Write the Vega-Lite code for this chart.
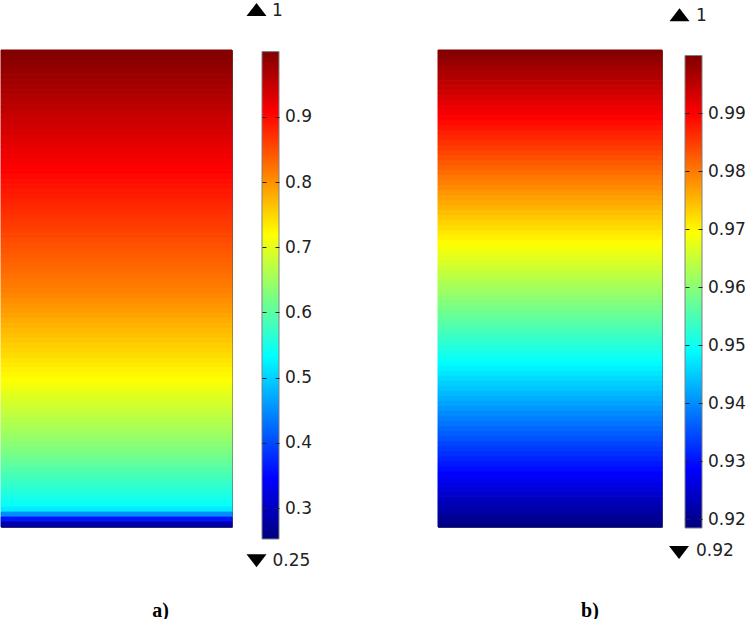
{
  "$schema": "https://vega.github.io/schema/vega-lite/v6.json",
  "background": "white",
  "padding": {"left": 0, "top": 1, "right": 0, "bottom": 6},
  "config": {"view": {"stroke": null}, "font": "DejaVu Sans"},
  "datasets": {
    "heatA": [
      {"row":0,"v":0.9981},{"row":1,"v":0.9942},{"row":2,"v":0.9903},{"row":3,"v":0.9864},{"row":4,"v":0.9826},{"row":5,"v":0.9787},{"row":6,"v":0.9748},{"row":7,"v":0.9709},{"row":8,"v":0.9671},{"row":9,"v":0.9632},
      {"row":10,"v":0.9593},{"row":11,"v":0.9554},{"row":12,"v":0.9516},{"row":13,"v":0.9477},{"row":14,"v":0.9438},{"row":15,"v":0.9399},{"row":16,"v":0.9361},{"row":17,"v":0.9322},{"row":18,"v":0.9283},{"row":19,"v":0.9244},
      {"row":20,"v":0.9206},{"row":21,"v":0.9167},{"row":22,"v":0.9128},{"row":23,"v":0.9089},{"row":24,"v":0.9051},{"row":25,"v":0.9012},{"row":26,"v":0.8973},{"row":27,"v":0.8934},{"row":28,"v":0.8896},{"row":29,"v":0.8857},
      {"row":30,"v":0.8818},{"row":31,"v":0.8779},{"row":32,"v":0.8741},{"row":33,"v":0.8702},{"row":34,"v":0.8663},{"row":35,"v":0.8624},{"row":36,"v":0.8586},{"row":37,"v":0.8547},{"row":38,"v":0.8508},{"row":39,"v":0.8469},
      {"row":40,"v":0.8431},{"row":41,"v":0.8392},{"row":42,"v":0.8353},{"row":43,"v":0.8314},{"row":44,"v":0.8276},{"row":45,"v":0.8237},{"row":46,"v":0.8198},{"row":47,"v":0.8159},{"row":48,"v":0.8121},{"row":49,"v":0.8073},
      {"row":50,"v":0.8021},{"row":51,"v":0.7969},{"row":52,"v":0.7917},{"row":53,"v":0.7865},{"row":54,"v":0.7813},{"row":55,"v":0.7761},{"row":56,"v":0.7709},{"row":57,"v":0.7657},{"row":58,"v":0.7605},{"row":59,"v":0.7553},
      {"row":60,"v":0.7501},{"row":61,"v":0.7449},{"row":62,"v":0.7397},{"row":63,"v":0.7345},{"row":64,"v":0.7293},{"row":65,"v":0.7241},{"row":66,"v":0.7187},{"row":67,"v":0.7122},{"row":68,"v":0.7056},{"row":69,"v":0.6991},
      {"row":70,"v":0.6925},{"row":71,"v":0.6860},{"row":72,"v":0.6794},{"row":73,"v":0.6729},{"row":74,"v":0.6663},{"row":75,"v":0.6598},{"row":76,"v":0.6532},{"row":77,"v":0.6467},{"row":78,"v":0.6401},{"row":79,"v":0.6336},
      {"row":80,"v":0.6270},{"row":81,"v":0.6194},{"row":82,"v":0.6112},{"row":83,"v":0.6031},{"row":84,"v":0.5949},{"row":85,"v":0.5868},{"row":86,"v":0.5786},{"row":87,"v":0.5705},{"row":88,"v":0.5623},{"row":89,"v":0.5542},
      {"row":90,"v":0.5460},{"row":91,"v":0.5379},{"row":92,"v":0.52},{"row":93,"v":0.45},{"row":94,"v":0.36},{"row":95,"v":0.28}
    ],
    "heatB": [
      {"row":0,"v":0.9996},{"row":1,"v":0.9989},{"row":2,"v":0.9981},{"row":3,"v":0.9974},{"row":4,"v":0.9966},{"row":5,"v":0.9959},{"row":6,"v":0.9951},{"row":7,"v":0.9944},{"row":8,"v":0.9936},{"row":9,"v":0.9929},
      {"row":10,"v":0.9921},{"row":11,"v":0.9913},{"row":12,"v":0.9906},{"row":13,"v":0.9898},{"row":14,"v":0.9890},{"row":15,"v":0.9882},{"row":16,"v":0.9874},{"row":17,"v":0.9867},{"row":18,"v":0.9859},{"row":19,"v":0.9851},
      {"row":20,"v":0.9843},{"row":21,"v":0.9835},{"row":22,"v":0.9827},{"row":23,"v":0.9819},{"row":24,"v":0.9811},{"row":25,"v":0.9803},{"row":26,"v":0.9795},{"row":27,"v":0.9787},{"row":28,"v":0.9779},{"row":29,"v":0.9771},
      {"row":30,"v":0.9763},{"row":31,"v":0.9755},{"row":32,"v":0.9746},{"row":33,"v":0.9738},{"row":34,"v":0.9730},{"row":35,"v":0.9722},{"row":36,"v":0.9713},{"row":37,"v":0.9705},{"row":38,"v":0.9697},{"row":39,"v":0.9688},
      {"row":40,"v":0.9680},{"row":41,"v":0.9671},{"row":42,"v":0.9663},{"row":43,"v":0.9655},{"row":44,"v":0.9646},{"row":45,"v":0.9638},{"row":46,"v":0.9629},{"row":47,"v":0.9620},{"row":48,"v":0.9612},{"row":49,"v":0.9603},
      {"row":50,"v":0.9595},{"row":51,"v":0.9586},{"row":52,"v":0.9577},{"row":53,"v":0.9569},{"row":54,"v":0.9560},{"row":55,"v":0.9551},{"row":56,"v":0.9542},{"row":57,"v":0.9533},{"row":58,"v":0.9525},{"row":59,"v":0.9516},
      {"row":60,"v":0.9507},{"row":61,"v":0.9498},{"row":62,"v":0.9489},{"row":63,"v":0.9480},{"row":64,"v":0.9471},{"row":65,"v":0.9462},{"row":66,"v":0.9453},{"row":67,"v":0.9444},{"row":68,"v":0.9435},{"row":69,"v":0.9426},
      {"row":70,"v":0.9417},{"row":71,"v":0.9408},{"row":72,"v":0.9398},{"row":73,"v":0.9389},{"row":74,"v":0.9380},{"row":75,"v":0.9371},{"row":76,"v":0.9361},{"row":77,"v":0.9352},{"row":78,"v":0.9343},{"row":79,"v":0.9333},
      {"row":80,"v":0.9324},{"row":81,"v":0.9315},{"row":82,"v":0.9305},{"row":83,"v":0.9296},{"row":84,"v":0.9286},{"row":85,"v":0.9277},{"row":86,"v":0.9267},{"row":87,"v":0.9258},{"row":88,"v":0.9248},{"row":89,"v":0.9239},
      {"row":90,"v":0.9229},{"row":91,"v":0.9219},{"row":92,"v":0.9210},{"row":93,"v":0.9200},{"row":94,"v":0.9190}
    ],
    "rangeA": [{"lo": 0.2525, "hi": 1.0}],
    "rangeB": [{"lo": 0.91845, "hi": 1.0}]
  },
  "bounds": "flush",
  "spacing": 0,
  "resolve": {"scale": {"fill": "independent", "stroke": "independent", "x": "independent", "y": "independent"}},
  "hconcat": [
    {
      "width": 231, "height": 477,
      "title": {"text": "a)", "orient": "bottom", "anchor": "middle", "dx": 44, "offset": 73, "font": "Liberation Serif", "fontWeight": "bold", "fontSize": 20, "color": "#000"},
      "view": {"stroke": "#555", "strokeWidth": 1},
      "data": {"name": "heatA"},
      "mark": {"type": "rect", "strokeWidth": 1},
      "encoding": {
        "y": {"field": "row", "type": "ordinal", "axis": null, "scale": {"paddingInner": 0, "paddingOuter": 0}},
        "fill": {"field": "v", "type": "quantitative", "legend": null,
          "scale": {"domain": [0.2525, 0.3459375, 0.439375, 0.5328125, 0.62625, 0.7196875, 0.813125, 0.9065625, 1.0],
            "range": ["#00007f", "#0000ff", "#007fff", "#00ffff", "#7fff7f", "#ffff00", "#ff7f00", "#ff0000", "#7f0000"],
            "interpolate": "rgb", "nice": false, "zero": false}},
        "stroke": {"field": "v", "type": "quantitative", "legend": null,
          "scale": {"domain": [0.2525, 0.3459375, 0.439375, 0.5328125, 0.62625, 0.7196875, 0.813125, 0.9065625, 1.0],
            "range": ["#00007f", "#0000ff", "#007fff", "#00ffff", "#7fff7f", "#ffff00", "#ff7f00", "#ff0000", "#7f0000"],
            "interpolate": "rgb", "nice": false, "zero": false}}
      }
    },
    {
      "width": 26, "height": 10,
      "data": {"values": []},
      "mark": "rect",
      "encoding": {}
    },
    {
      "width": 1, "height": 489,
      "data": {"name": "rangeA"},
      "mark": {"type": "point", "shape": "M0,-0.65L1,0.65L-1,0.65Z", "filled": true, "color": "#000", "opacity": 1, "size": 400, "xOffset": -1.5, "yOffset": -42},
      "encoding": {
        "x": {"datum": 0, "type": "quantitative", "scale": {"domain": [0, 1]}, "axis": null},
        "y": {"field": "hi", "type": "quantitative", "scale": {"domain": [0.2525, 1.00245], "nice": false, "zero": false}, "axis": null}
      }
    },
    {
      "width": 1, "height": 489,
      "data": {"name": "rangeA"},
      "mark": {"type": "point", "shape": "M-1,-0.65L1,-0.65L0,0.65Z", "filled": true, "color": "#000", "opacity": 1, "size": 400, "xOffset": -2.5, "yOffset": 21.7},
      "encoding": {
        "x": {"datum": 0, "type": "quantitative", "scale": {"domain": [0, 1]}, "axis": null},
        "y": {"field": "lo", "type": "quantitative", "scale": {"domain": [0.2525, 1.00245], "nice": false, "zero": false}, "axis": null}
      }
    },
    {
      "width": 1, "height": 489,
      "data": {"name": "rangeA"},
      "mark": {"type": "text", "align": "left", "baseline": "middle", "dx": 12, "dy": -41, "fontSize": 17, "font": "DejaVu Sans", "color": "#222"},
      "encoding": {
        "x": {"datum": 0, "type": "quantitative", "scale": {"domain": [0, 1]}, "axis": null},
        "y": {"field": "hi", "type": "quantitative", "scale": {"domain": [0.2525, 1.00245], "nice": false, "zero": false}, "axis": null},
        "text": {"field": "hi", "type": "quantitative", "format": ".2~f"}
      }
    },
    {
      "width": 1, "height": 489,
      "data": {"name": "rangeA"},
      "mark": {"type": "text", "align": "left", "baseline": "middle", "dx": 11.5, "dy": 22, "fontSize": 17, "font": "DejaVu Sans", "color": "#222"},
      "encoding": {
        "x": {"datum": 0, "type": "quantitative", "scale": {"domain": [0, 1]}, "axis": null},
        "y": {"field": "lo", "type": "quantitative", "scale": {"domain": [0.2525, 1.00245], "nice": false, "zero": false}, "axis": null},
        "text": {"field": "lo", "type": "quantitative", "format": ".2~f"}
      }
    },
    {
      "width": 17, "height": 489,
      "data": {"name": "rangeA"},
      "mark": {"type": "rect", "stroke": "#808080", "strokeWidth": 1,
        "fill": {"gradient": "linear", "x1": 0, "y1": 1, "x2": 0, "y2": 0,
          "stops": [{"offset": 0, "color": "#00007f"}, {"offset": 0.125, "color": "#0000ff"}, {"offset": 0.25, "color": "#007fff"}, {"offset": 0.375, "color": "#00ffff"}, {"offset": 0.5, "color": "#7fff7f"}, {"offset": 0.625, "color": "#ffff00"}, {"offset": 0.75, "color": "#ff7f00"}, {"offset": 0.875, "color": "#ff0000"}, {"offset": 1, "color": "#7f0000"}]}},
      "encoding": {
        "y": {"field": "lo", "type": "quantitative", "scale": {"domain": [0.2525, 1.00245], "nice": false, "zero": false},
          "axis": {"orient": "right", "values": [0.3, 0.4, 0.5, 0.6, 0.7, 0.8, 0.9], "format": ".1f", "domain": false, "grid": false, "ticks": true, "tickSize": -17, "tickDash": [4, 9, 4], "tickColor": "#222", "labelPadding": 22.5, "labelFontSize": 17, "labelFont": "DejaVu Sans", "labelColor": "#222", "title": null, "zindex": 1}},
        "y2": {"field": "hi"}
      }
    },
    {
      "width": 159, "height": 10,
      "data": {"values": []},
      "mark": "rect",
      "encoding": {}
    },
    {
      "width": 224, "height": 477,
      "title": {"text": "b)", "orient": "bottom", "anchor": "middle", "dx": 40, "offset": 73, "font": "Liberation Serif", "fontWeight": "bold", "fontSize": 20, "color": "#000"},
      "view": {"stroke": "#555", "strokeWidth": 1},
      "data": {"name": "heatB"},
      "mark": {"type": "rect", "strokeWidth": 1},
      "encoding": {
        "y": {"field": "row", "type": "ordinal", "axis": null, "scale": {"paddingInner": 0, "paddingOuter": 0}},
        "fill": {"field": "v", "type": "quantitative", "legend": null,
          "scale": {"domain": [0.91845, 0.92864375, 0.9388375, 0.94903125, 0.959225, 0.96941875, 0.9796125, 0.98980625, 1.0],
            "range": ["#00007f", "#0000ff", "#007fff", "#00ffff", "#7fff7f", "#ffff00", "#ff7f00", "#ff0000", "#7f0000"],
            "interpolate": "rgb", "nice": false, "zero": false}},
        "stroke": {"field": "v", "type": "quantitative", "legend": null,
          "scale": {"domain": [0.91845, 0.92864375, 0.9388375, 0.94903125, 0.959225, 0.96941875, 0.9796125, 0.98980625, 1.0],
            "range": ["#00007f", "#0000ff", "#007fff", "#00ffff", "#7fff7f", "#ffff00", "#ff7f00", "#ff0000", "#7f0000"],
            "interpolate": "rgb", "nice": false, "zero": false}}
      }
    },
    {
      "width": 19, "height": 10,
      "data": {"values": []},
      "mark": "rect",
      "encoding": {}
    },
    {
      "width": 1, "height": 478,
      "data": {"name": "rangeB"},
      "mark": {"type": "point", "shape": "M0,-0.65L1,0.65L-1,0.65Z", "filled": true, "color": "#000", "opacity": 1, "size": 400, "xOffset": -1.5, "yOffset": -40.8},
      "encoding": {
        "x": {"datum": 0, "type": "quantitative", "scale": {"domain": [0, 1]}, "axis": null},
        "y": {"field": "hi", "type": "quantitative", "scale": {"domain": [0.91845, 1.00095], "nice": false, "zero": false}, "axis": null}
      }
    },
    {
      "width": 1, "height": 478,
      "data": {"name": "rangeB"},
      "mark": {"type": "point", "shape": "M-1,-0.65L1,-0.65L0,0.65Z", "filled": true, "color": "#000", "opacity": 1, "size": 400, "xOffset": -3, "yOffset": 24.5},
      "encoding": {
        "x": {"datum": 0, "type": "quantitative", "scale": {"domain": [0, 1]}, "axis": null},
        "y": {"field": "lo", "type": "quantitative", "scale": {"domain": [0.91845, 1.00095], "nice": false, "zero": false}, "axis": null}
      }
    },
    {
      "width": 1, "height": 478,
      "data": {"name": "rangeB"},
      "mark": {"type": "text", "align": "left", "baseline": "middle", "dx": 13, "dy": -39.5, "fontSize": 17, "font": "DejaVu Sans", "color": "#222"},
      "encoding": {
        "x": {"datum": 0, "type": "quantitative", "scale": {"domain": [0, 1]}, "axis": null},
        "y": {"field": "hi", "type": "quantitative", "scale": {"domain": [0.91845, 1.00095], "nice": false, "zero": false}, "axis": null},
        "text": {"field": "hi", "type": "quantitative", "format": ".2~f"}
      }
    },
    {
      "width": 1, "height": 478,
      "data": {"name": "rangeB"},
      "mark": {"type": "text", "align": "left", "baseline": "middle", "dx": 12, "dy": 23, "fontSize": 17, "font": "DejaVu Sans", "color": "#222"},
      "encoding": {
        "x": {"datum": 0, "type": "quantitative", "scale": {"domain": [0, 1]}, "axis": null},
        "y": {"field": "lo", "type": "quantitative", "scale": {"domain": [0.91845, 1.00095], "nice": false, "zero": false}, "axis": null},
        "text": {"field": "lo", "type": "quantitative", "format": ".2~f"}
      }
    },
    {
      "width": 17, "height": 478,
      "data": {"name": "rangeB"},
      "mark": {"type": "rect", "stroke": "#808080", "strokeWidth": 1,
        "fill": {"gradient": "linear", "x1": 0, "y1": 1, "x2": 0, "y2": 0,
          "stops": [{"offset": 0, "color": "#00007f"}, {"offset": 0.125, "color": "#0000ff"}, {"offset": 0.25, "color": "#007fff"}, {"offset": 0.375, "color": "#00ffff"}, {"offset": 0.5, "color": "#7fff7f"}, {"offset": 0.625, "color": "#ffff00"}, {"offset": 0.75, "color": "#ff7f00"}, {"offset": 0.875, "color": "#ff0000"}, {"offset": 1, "color": "#7f0000"}]}},
      "encoding": {
        "y": {"field": "lo", "type": "quantitative", "scale": {"domain": [0.91845, 1.00095], "nice": false, "zero": false},
          "axis": {"orient": "right", "values": [0.92, 0.93, 0.94, 0.95, 0.96, 0.97, 0.98, 0.99], "format": ".2f", "domain": false, "grid": false, "ticks": true, "tickSize": -17, "tickDash": [4, 9, 4], "tickColor": "#222", "labelPadding": 22.5, "labelFontSize": 17, "labelFont": "DejaVu Sans", "labelColor": "#222", "title": null, "zindex": 1}},
        "y2": {"field": "hi"}
      }
    }
  ]
}
